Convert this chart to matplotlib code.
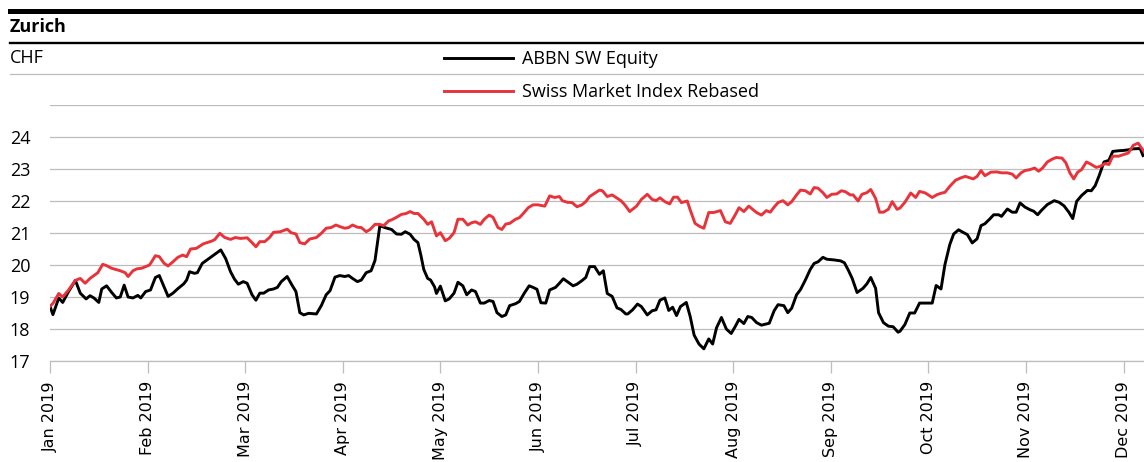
import matplotlib
matplotlib.use("Agg")
import matplotlib.pyplot as plt
from matplotlib.lines import Line2D

# x positions are in months after 1 Jan 2019 (axis is evenly spaced by month)
month_labels = ['Jan 2019', 'Feb 2019', 'Mar 2019', 'Apr 2019', 'May 2019', 'Jun 2019',
                'Jul 2019', 'Aug 2019', 'Sep 2019', 'Oct 2019', 'Nov 2019', 'Dec 2019']

abbn_t = [0.00, 0.03, 0.09, 0.13, 0.19, 0.26, 0.31, 0.37, 0.41, 0.45, 0.50, 0.53, 0.58, 0.63,
          0.68, 0.72, 0.76, 0.80, 0.85, 0.90, 0.93, 0.98, 1.03, 1.08, 1.12, 1.21, 1.26, 1.31,
          1.37, 1.40, 1.43, 1.48, 1.51, 1.56, 1.61, 1.67, 1.75, 1.80, 1.85, 1.89, 1.93, 1.98,
          2.02, 2.07, 2.11, 2.15, 2.19, 2.24, 2.29, 2.33, 2.37, 2.43, 2.48, 2.52, 2.56, 2.60,
          2.65, 2.73, 2.78, 2.83, 2.87, 2.92, 2.97, 3.02, 3.06, 3.10, 3.15, 3.19, 3.24, 3.29,
          3.33, 3.36, 3.38, 3.43, 3.50, 3.55, 3.60, 3.64, 3.69, 3.73, 3.77, 3.80, 3.83, 3.87,
          3.90, 3.94, 3.96, 4.00, 4.05, 4.09, 4.14, 4.18, 4.23, 4.27, 4.32, 4.36, 4.41, 4.45,
          4.50, 4.54, 4.58, 4.63, 4.67, 4.71, 4.77, 4.81, 4.86, 4.91, 4.95, 4.99, 5.03, 5.08,
          5.12, 5.18, 5.22, 5.26, 5.31, 5.36, 5.40, 5.45, 5.49, 5.53, 5.58, 5.63, 5.67, 5.71,
          5.76, 5.81, 5.85, 5.90, 5.92, 5.97, 6.02, 6.06, 6.12, 6.17, 6.21, 6.25, 6.30, 6.34,
          6.38, 6.42, 6.46, 6.52, 6.56, 6.60, 6.65, 6.70, 6.75, 6.79, 6.83, 6.88, 6.93, 6.98,
          7.02, 7.06, 7.11, 7.15, 7.19, 7.24, 7.29, 7.37, 7.42, 7.46, 7.52, 7.56, 7.60, 7.65,
          7.69, 7.74, 7.79, 7.83, 7.87, 7.92, 7.96, 8.03, 8.10, 8.14, 8.18, 8.22, 8.27, 8.33,
          8.37, 8.41, 8.46, 8.49, 8.54, 8.59, 8.64, 8.69, 8.71, 8.76, 8.81, 8.86, 8.91, 8.97,
          9.04, 9.08, 9.13, 9.17, 9.22, 9.26, 9.31, 9.35, 9.40, 9.45, 9.50, 9.54, 9.58, 9.63,
          9.67, 9.72, 9.75, 9.81, 9.86, 9.90, 9.94, 9.99, 10.04, 10.08, 10.12, 10.16, 10.22,
          10.29, 10.34, 10.39, 10.44, 10.48, 10.52, 10.57, 10.63, 10.67, 10.71, 10.75, 10.80,
          10.85, 10.89, 10.95, 11.00, 11.05, 11.10, 11.17, 11.20]
abbn = [18.71, 18.45, 18.97, 18.83, 19.17, 19.52, 19.12, 18.94, 19.04, 18.97, 18.83, 19.25, 19.35, 19.15,
        18.97, 19.00, 19.37, 19.00, 18.97, 19.05, 18.97, 19.17, 19.22, 19.61, 19.67, 19.02, 19.12, 19.26,
        19.41, 19.53, 19.79, 19.74, 19.76, 20.05, 20.16, 20.29, 20.47, 20.20, 19.79, 19.56, 19.40, 19.48,
        19.43, 19.07, 18.90, 19.12, 19.12, 19.22, 19.25, 19.30, 19.48, 19.64, 19.37, 19.17, 18.51, 18.44,
        18.49, 18.47, 18.73, 19.07, 19.20, 19.62, 19.67, 19.64, 19.67, 19.58, 19.48, 19.53, 19.76, 19.82,
        20.14, 20.78, 21.23, 21.17, 21.11, 20.97, 20.96, 21.04, 20.96, 20.80, 20.70, 20.31, 19.86, 19.58,
        19.53, 19.32, 19.11, 19.34, 18.88, 18.94, 19.12, 19.46, 19.35, 19.07, 19.22, 19.17, 18.81, 18.81,
        18.89, 18.86, 18.51, 18.39, 18.44, 18.73, 18.79, 18.86, 19.12, 19.35, 19.30, 19.24, 18.82, 18.81,
        19.22, 19.30, 19.43, 19.57, 19.46, 19.35, 19.40, 19.51, 19.61, 19.95, 19.95, 19.71, 19.82, 19.11,
        19.02, 18.66, 18.61, 18.47, 18.47, 18.60, 18.78, 18.70, 18.44, 18.57, 18.60, 18.90, 18.97, 18.58,
        18.68, 18.42, 18.70, 18.83, 18.39, 17.81, 17.53, 17.38, 17.69, 17.53, 18.04, 18.36, 18.00, 17.86,
        18.07, 18.30, 18.17, 18.39, 18.36, 18.20, 18.12, 18.18, 18.57, 18.76, 18.73, 18.51, 18.65, 19.07,
        19.23, 19.53, 19.86, 20.05, 20.10, 20.24, 20.18, 20.16, 20.13, 20.07, 19.84, 19.58, 19.14, 19.27,
        19.41, 19.61, 19.27, 18.51, 18.20, 18.09, 18.07, 17.90, 17.93, 18.14, 18.50, 18.50, 18.81, 18.81,
        18.81, 19.36, 19.25, 20.01, 20.64, 20.97, 21.10, 21.03, 20.95, 20.69, 20.82, 21.23, 21.29, 21.44,
        21.57, 21.57, 21.52, 21.75, 21.65, 21.65, 21.94, 21.81, 21.73, 21.68, 21.57, 21.71, 21.89,
        22.01, 21.96, 21.85, 21.65, 21.45, 21.99, 22.17, 22.33, 22.32, 22.48, 22.79, 23.22,
        23.27, 23.55, 23.57, 23.58, 23.60, 23.63, 23.64, 23.42]

smi_t = [0.00, 0.03, 0.09, 0.13, 0.19, 0.26, 0.31, 0.36, 0.41, 0.49, 0.54, 0.58, 0.63, 0.72,
         0.77, 0.80, 0.85, 0.89, 0.94, 1.02, 1.08, 1.12, 1.17, 1.21, 1.26, 1.31, 1.36, 1.40,
         1.44, 1.50, 1.57, 1.66, 1.69, 1.74, 1.79, 1.85, 1.90, 1.95, 2.02, 2.07, 2.11, 2.15,
         2.20, 2.25, 2.29, 2.36, 2.43, 2.47, 2.52, 2.56, 2.61, 2.66, 2.73, 2.78, 2.83, 2.88,
         2.93, 2.97, 3.02, 3.06, 3.10, 3.15, 3.19, 3.24, 3.28, 3.33, 3.38, 3.42, 3.47, 3.50,
         3.55, 3.60, 3.65, 3.69, 3.73, 3.77, 3.83, 3.87, 3.91, 3.96, 4.00, 4.05, 4.09, 4.14,
         4.18, 4.23, 4.28, 4.32, 4.36, 4.41, 4.45, 4.50, 4.54, 4.59, 4.63, 4.67, 4.71, 4.77,
         4.81, 4.85, 4.90, 4.95, 5.00, 5.07, 5.12, 5.17, 5.22, 5.25, 5.30, 5.35, 5.40, 5.45,
         5.49, 5.53, 5.59, 5.63, 5.66, 5.71, 5.76, 5.80, 5.85, 5.89, 5.94, 6.01, 6.06, 6.12,
         6.17, 6.21, 6.25, 6.30, 6.35, 6.39, 6.43, 6.47, 6.53, 6.56, 6.61, 6.66, 6.70, 6.75,
         6.80, 6.87, 6.92, 6.97, 7.02, 7.06, 7.11, 7.16, 7.20, 7.24, 7.29, 7.34, 7.38, 7.42,
         7.46, 7.51, 7.56, 7.60, 7.65, 7.69, 7.74, 7.79, 7.83, 7.87, 7.92, 7.96, 8.01, 8.06,
         8.11, 8.15, 8.20, 8.23, 8.28, 8.32, 8.37, 8.41, 8.46, 8.50, 8.54, 8.59, 8.63, 8.68,
         8.71, 8.76, 8.82, 8.87, 8.91, 8.97, 9.04, 9.09, 9.14, 9.17, 9.22, 9.28, 9.33, 9.38,
         9.46, 9.50, 9.54, 9.58, 9.64, 9.70, 9.75, 9.81, 9.86, 9.90, 9.95, 9.99, 10.04, 10.09,
         10.13, 10.17, 10.22, 10.27, 10.31, 10.37, 10.41, 10.45, 10.49, 10.53, 10.57, 10.62,
         10.66, 10.72, 10.76, 10.81, 10.85, 10.89, 10.95, 11.00, 11.05, 11.10, 11.15, 11.19, 11.21]
smi = [18.71, 18.80, 19.11, 19.00, 19.22, 19.52, 19.58, 19.43, 19.58, 19.76, 20.02, 19.98, 19.90, 19.82,
       19.76, 19.64, 19.82, 19.88, 19.90, 20.00, 20.29, 20.26, 20.05, 19.97, 20.10, 20.24, 20.31, 20.26,
       20.50, 20.52, 20.66, 20.75, 20.80, 20.99, 20.86, 20.80, 20.86, 20.83, 20.85, 20.70, 20.57, 20.73,
       20.73, 20.86, 21.02, 21.04, 21.12, 21.01, 20.97, 20.70, 20.66, 20.81, 20.86, 20.99, 21.15, 21.17,
       21.25, 21.20, 21.15, 21.17, 21.25, 21.18, 21.17, 21.04, 21.11, 21.27, 21.27, 21.23, 21.38, 21.41,
       21.49, 21.58, 21.61, 21.67, 21.61, 21.61, 21.43, 21.27, 21.35, 20.91, 21.01, 20.76, 20.83, 21.01,
       21.43, 21.43, 21.25, 21.32, 21.35, 21.27, 21.43, 21.56, 21.49, 21.17, 21.11, 21.28, 21.30, 21.43,
       21.48, 21.61, 21.79, 21.88, 21.88, 21.84, 22.16, 22.11, 22.14, 22.01, 21.96, 21.95, 21.82, 21.88,
       21.98, 22.14, 22.26, 22.34, 22.32, 22.14, 22.19, 22.11, 22.01, 21.88, 21.67, 21.84, 22.05, 22.21,
       22.05, 22.01, 22.10, 21.98, 21.91, 22.12, 22.12, 21.95, 22.00, 21.72, 21.30, 21.20, 21.15, 21.64,
       21.64, 21.70, 21.35, 21.30, 21.56, 21.79, 21.67, 21.84, 21.74, 21.64, 21.56, 21.70, 21.65, 21.81,
       21.95, 22.01, 21.88, 21.98, 22.19, 22.34, 22.32, 22.22, 22.42, 22.40, 22.26, 22.11, 22.21, 22.22,
       22.32, 22.29, 22.19, 22.19, 22.00, 22.21, 22.26, 22.36, 22.08, 21.65, 21.65, 21.74, 21.98, 21.74,
       21.78, 21.96, 22.25, 22.11, 22.30, 22.25, 22.11, 22.20, 22.25, 22.27, 22.46, 22.65, 22.72, 22.77,
       22.69, 22.77, 22.95, 22.79, 22.90, 22.91, 22.88, 22.88, 22.84, 22.72, 22.88, 22.95, 22.98, 23.03,
       22.93, 23.03, 23.22, 23.31, 23.36, 23.34, 23.19, 22.88, 22.69, 22.90, 22.98, 23.22,
       23.16, 23.05, 23.08, 23.17, 23.14, 23.40, 23.40, 23.45, 23.50, 23.74, 23.81, 23.63, 23.55]

y_ticks = [17, 18, 19, 20, 21, 22, 23, 24]

RED = '#e8333a'
GRID = '#bdbdbd'
W, H = 1144, 462
hdr_font = ['Open Sans', 'DejaVu Sans']

fig = plt.figure(figsize=(W / 100, H / 100), dpi=100)
ax = fig.add_axes([50 / W, 1 - 361 / H, 1 - 50 / W, (361 - 105) / H])

ax.plot(abbn_t, abbn, color='black', linewidth=2.1, label='ABBN SW Equity', zorder=3)
ax.plot(smi_t, smi, color=RED, linewidth=2.1, label='Swiss Market Index Rebased', zorder=3)

ax.set_xlim(0, 11.21)
ax.set_ylim(17, 25)
ax.set_yticks(y_ticks)
ax.set_yticklabels([str(v) for v in y_ticks], fontfamily=hdr_font, fontsize=13, ha='left')
ax.set_yticks([25], minor=True)
ax.tick_params(axis='y', which='both', length=0, pad=29)
ax.grid(axis='y', which='both', color=GRID, linewidth=0.9)
ax.set_axisbelow(True)

ax.set_xticks(range(len(month_labels)))
ax.set_xticklabels(month_labels, rotation=90, fontsize=11.5, va='top', ha='center')
ax.tick_params(axis='x', length=8.5, width=0.9, color=GRID, pad=6)

for side in ['left', 'right', 'top']:
    ax.spines[side].set_visible(False)
ax.spines['bottom'].set_color(GRID)
ax.spines['bottom'].set_linewidth(0.9)

# header rules and titles
fig.add_artist(Line2D([10 / W, 1], [1 - 10.8 / H] * 2, color='black', linewidth=3.6))
fig.add_artist(Line2D([10 / W, 1], [1 - 42.5 / H] * 2, color='black', linewidth=1.7))
fig.add_artist(Line2D([10 / W, 1], [1 - 74 / H] * 2, color=GRID, linewidth=0.9))
fig.text(10 / W, 1 - 27 / H, 'Zurich', fontsize=13, fontweight='bold', family=hdr_font, va='center')
fig.text(10 / W, 1 - 58 / H, 'CHF', fontsize=13, family=hdr_font, va='center')

leg = fig.legend(loc='upper left', bbox_to_anchor=(435 / W, 1 - 41 / H), frameon=False,
                 handlelength=3.8, handletextpad=0.5, labelspacing=0.84, borderpad=0,
                 prop={'family': hdr_font, 'size': 13})

fig.savefig('out.png', dpi=100)
